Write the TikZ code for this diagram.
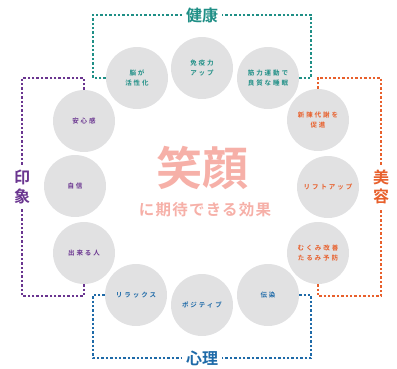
\documentclass[tikz,border=0pt]{standalone}
\usepackage{fontspec}
\setmainfont{Noto Sans CJK JP}
\newfontfamily\cfont{Noto Sans CJK JP Bold}[LetterSpace=30]
\newfontfamily\tfont{Noto Sans CJK JP Bold}
\newfontfamily\mfont{Noto Sans CJK JP Bold}[LetterSpace=8]
\definecolor{kenko}{HTML}{1F8F86}
\definecolor{biyou}{HTML}{E8602C}
\definecolor{shinri}{HTML}{1E6AA8}
\definecolor{insho}{HTML}{6A3590}
\definecolor{egao}{HTML}{F6B0A8}
\definecolor{cgray}{HTML}{E1E1E2}
\tikzset{
  bub/.style={circle, fill=cgray, minimum size=62pt, inner sep=0pt, align=center,
    font=\cfont\fontsize{6.5}{10.5}\selectfont},
  dotline/.style={line width=1.6pt, dash pattern=on 2.4pt off 2pt},
  ttl/.style={fill=white, inner xsep=4pt, inner ysep=3pt, align=center,
    font=\tfont\fontsize{16}{19}\selectfont},
}
\begin{document}
\begin{tikzpicture}[x=1pt,y=-1pt]
\useasboundingbox (0,0) rectangle (397,368);
% circles
\node[bub, text=kenko] (c1) at (137,78) {脳が\\活性化};
\node[bub, text=kenko] (c2) at (202,68) {免疫力\\アップ};
\node[bub, text=kenko] (c3) at (268,78) {筋力運動で\\良質な睡眠};
\node[bub, text=biyou] (c4) at (318,120) {新陳代謝を\\促進};
\node[bub, text=biyou] (c5) at (328,187) {リフトアップ};
\node[bub, text=biyou] (c6) at (318,253) {むくみ改善\\たるみ予防};
\node[bub, text=shinri] (c7) at (268,295) {伝染};
\node[bub, text=shinri] (c8) at (202,305) {ポジティブ};
\node[bub, text=shinri] (c9) at (136,295) {リラックス};
\node[bub, text=insho] (c10) at (84,253) {出来る人};
\node[bub, text=insho] (c11) at (75,186) {自信};
\node[bub, text=insho] (c12) at (84,121) {安心感};
% titles (coordinates for connectors)
\coordinate (tk) at (202,15);
\coordinate (tb) at (381,187);
\coordinate (ts) at (202,358);
\coordinate (ti) at (22,187);
% connectors
\draw[dotline, kenko] (c1.west) -- ++(-13,0) |- (tk);
\draw[dotline, kenko] (c3.east) -- ++(12,0) |- (tk);
\draw[dotline, biyou] (c4.north) -- ++(0,-11) -| (tb);
\draw[dotline, biyou] (c6.south) -- ++(0,12) -| (tb);
\draw[dotline, shinri] (c7.east) -- ++(12,0) |- (ts);
\draw[dotline, shinri] (c9.west) -- ++(-12,0) |- (ts);
\draw[dotline, insho] (c12.north) -- ++(0,-12) -| (ti);
\draw[dotline, insho] (c10.south) -- ++(0,12) -| (ti);
% title labels
\node[ttl, text=kenko] (lk) at (tk) {健康};
\node[ttl, text=biyou, inner xsep=3pt, inner ysep=4pt] (lb) at (tb) {美\\容};
\node[ttl, text=shinri] (ls) at (ts) {心理};
\node[ttl, text=insho, inner xsep=3pt, inner ysep=4pt] (li) at (ti) {印\\象};
% center
\node[text=egao, font=\tfont\fontsize{46}{50}\selectfont] (egao) at (202,168) {笑顔};
\node[text=egao, font=\mfont\fontsize{15.5}{18}\selectfont] (sub) at (205,210) {に期待できる効果};
\end{tikzpicture}
\end{document}
